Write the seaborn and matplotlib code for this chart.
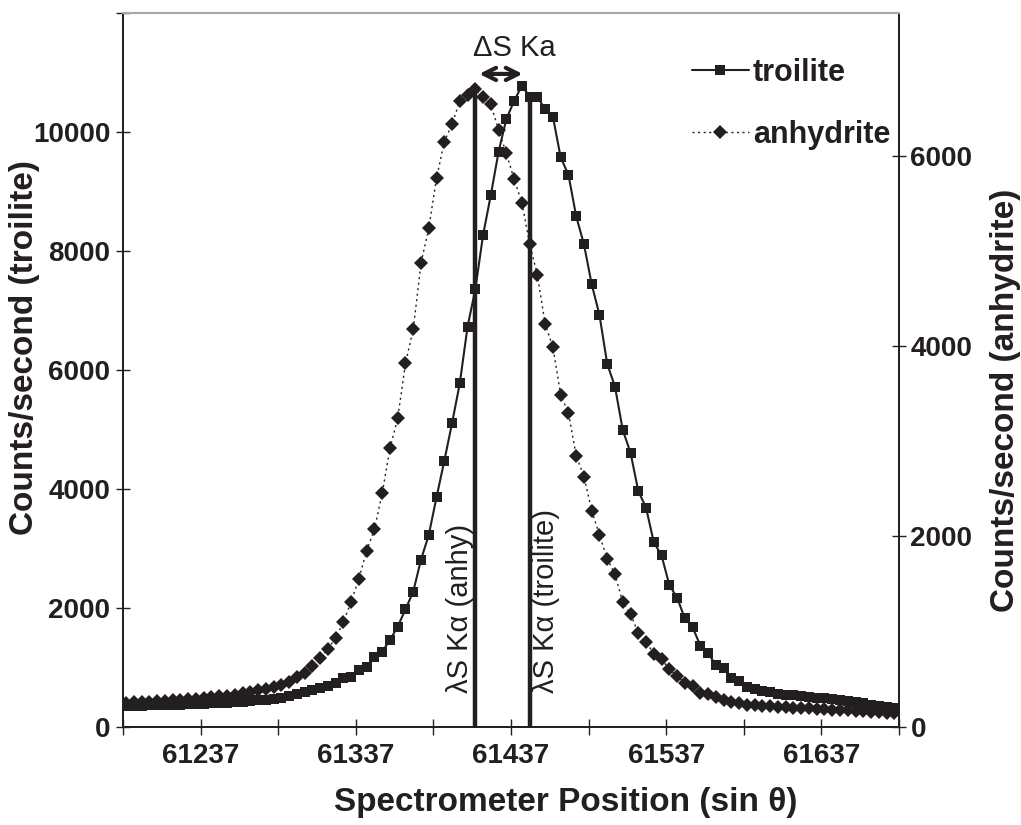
import numpy as np
import pandas as pd
import matplotlib
matplotlib.use("Agg")
import matplotlib.pyplot as plt
import seaborn as sns
from matplotlib.lines import Line2D
from matplotlib.ticker import FixedLocator, NullFormatter

# Spectrometer positions (sin theta), 5-step scan
positions = np.arange(61189, 61689, 5)

# Counts/second, troilite (left axis)
troilite = [
    350, 352, 355, 358, 361, 364, 368, 372, 376, 381,
    386, 392, 398, 405, 413, 422, 432, 443, 456, 470,
    490, 515, 545, 580, 620, 650, 685, 730, 814, 841,
    954, 1009, 1177, 1262, 1458, 1682, 1975, 2271, 2810, 3225,
    3859, 4469, 5103, 5776, 6728, 7357, 8271, 8944, 9672, 10222,
    10525, 10782, 10600, 10590, 10390, 10260, 9575, 9285, 8585, 8114,
    7441, 6925, 6101, 5719, 4991, 4609, 3965, 3684, 3102, 2880,
    2383, 2170, 1823, 1672, 1363, 1235, 1038, 982, 824, 774,
    663, 630, 600, 575, 555, 540, 525, 512, 500, 488,
    475, 460, 445, 430, 410, 390, 370, 350, 330, 310,
]

# Counts/second, anhydrite (right axis)
anhydrite = [
    254, 257, 260, 264, 268, 273, 278, 284, 290, 296,
    303, 310, 318, 326, 333, 351, 368, 382, 393, 418,
    438, 468, 526, 560, 635, 719, 819, 929, 1100, 1314,
    1555, 1850, 2075, 2454, 2927, 3242, 3820, 4178, 4872, 5240,
    5765, 6150, 6333, 6578, 6641, 6700, 6623, 6543, 6273, 6028,
    5755, 5509, 5075, 4749, 4234, 3989, 3487, 3301, 2849, 2628,
    2271, 2012, 1765, 1602, 1308, 1185, 982, 894, 764, 710,
    603, 533, 460, 428, 354, 344, 309, 284, 257, 245,
    232, 225, 220, 215, 210, 205, 200, 196, 192, 188,
    184, 180, 175, 170, 165, 160, 155, 150, 146, 142,
]

# Peak positions of S K-alpha for each mineral
peak_anhydrite = 61414
peak_troilite = 61449

x_major = [61237, 61337, 61437, 61537, 61637]
x_minor = [61187, 61287, 61387, 61487, 61587, 61687]
left_ticks = [0, 2000, 4000, 6000, 8000, 10000, 12000]
left_labels = ["0", "2000", "4000", "6000", "8000", "10000", ""]
right_ticks = [0, 2000, 4000, 6000]

sns.set_theme(style="white")
plt.rcParams["font.family"] = ["Liberation Sans", "DejaVu Sans"]
INK = "#231f20"

df = pd.DataFrame({"pos": positions, "troilite": troilite, "anhydrite": anhydrite})

fig = plt.figure(figsize=(10.21, 8.25), dpi=100)
ax = fig.add_axes([0.1205, 0.1192, 0.7600, 0.8647])
ax2 = ax.twinx()

sns.lineplot(data=df, x="pos", y="troilite", ax=ax, color=INK, lw=1.5,
             marker="s", markersize=7.5, markeredgewidth=0, legend=False)
sns.lineplot(data=df, x="pos", y="anhydrite", ax=ax2, color=INK, lw=1.0,
             linestyle=(0, (1.5, 2.5)), marker="D", markersize=7.6,
             markeredgewidth=0, legend=False)

ax.set_xlim(61187, 61687)
ax.set_ylim(0, 12000)
ax2.set_ylim(0, 7500)

# Peak markers
t_peak = df.loc[df.pos == peak_troilite, "troilite"].iloc[0]
a_peak = df.loc[df.pos == peak_anhydrite, "anhydrite"].iloc[0]
ax2.plot([peak_anhydrite, peak_anhydrite], [0, a_peak], color=INK, lw=3.2, zorder=5)
ax2.plot([peak_troilite, peak_troilite], [0, t_peak * 7500 / 12000], color=INK, lw=3.2, zorder=5)

ax.text(peak_anhydrite - 10, 560, "λS Kα (anhy)", rotation=90, ha="center",
        va="bottom", fontsize=21, color=INK)
ax.text(peak_troilite + 10.5, 560, "λS Kα (troilite)", rotation=90, ha="center",
        va="bottom", fontsize=21, color=INK)
ax.text(61439, 11420, "ΔS Ka", ha="center", va="center", fontsize=21, color=INK)
ax.annotate("", xy=(61444.5, 10980), xytext=(61416.5, 10980),
            arrowprops=dict(arrowstyle="<->", lw=3, color=INK, mutation_scale=22,
                            shrinkA=0, shrinkB=0))

# Axes styling
for a in (ax, ax2):
    for side in ("left", "right", "bottom"):
        a.spines[side].set_color(INK)
        a.spines[side].set_linewidth(1.3)
    a.spines["top"].set_color("#a7a9ac")
    a.spines["top"].set_linewidth(1.5)

ax.xaxis.set_major_locator(FixedLocator(x_major))
ax.xaxis.set_minor_locator(FixedLocator(x_minor))
ax.xaxis.set_minor_formatter(NullFormatter())
ax.set_xticklabels([str(v) for v in x_major])
ax.set_yticks(left_ticks)
ax.set_yticklabels(left_labels)
ax2.set_yticks(right_ticks)
ax2.set_yticklabels([str(v) for v in right_ticks])

ax.tick_params(axis="x", which="both", direction="inout", length=11.5, width=1,
               color=INK, pad=6, labelsize=20, labelcolor=INK, bottom=True)
ax.tick_params(axis="y", direction="inout", length=10.5, width=1, color=INK,
               pad=4, labelsize=20, labelcolor=INK, left=True)
ax2.tick_params(axis="y", direction="inout", length=10.5, width=1, color=INK,
                pad=3, labelsize=20, labelcolor=INK, right=True)
for lab in ax.get_xticklabels() + ax.get_yticklabels() + ax2.get_yticklabels():
    lab.set_fontweight("bold")

ax.set_xlabel("Spectrometer Position (sin θ)", fontsize=24, fontweight="bold", color=INK)
ax.set_ylabel("Counts/second (troilite)", fontsize=24, fontweight="bold", color=INK)
ax2.set_ylabel("Counts/second (anhydrite)", fontsize=24, fontweight="bold", color=INK,
               rotation=90)
ax.xaxis.set_label_coords(0.57, -0.084)
ax.yaxis.set_label_coords(-0.107, 0.532)
ax2.yaxis.set_label_coords(1.117, 0.458)

handles = [
    Line2D([], [], color=INK, lw=1.5, marker="s", markersize=7.5, markeredgewidth=0),
    Line2D([], [], color=INK, lw=1.0, linestyle=(0, (1.5, 2.5)), marker="D",
           markersize=7.6, markeredgewidth=0),
]
leg = ax2.legend(handles, ["troilite", "anhydrite"], loc="upper left",
                 bbox_to_anchor=(692 / 1021, 1 - 58 / 825), bbox_transform=fig.transFigure,
                 frameon=False, numpoints=1, handlelength=1.85, handletextpad=0.15,
                 labelspacing=1.05, borderpad=0, borderaxespad=0,
                 prop={"size": 22, "weight": "bold"})
for t in leg.get_texts():
    t.set_color(INK)

fig.savefig("out.png", dpi=100, facecolor="white")
